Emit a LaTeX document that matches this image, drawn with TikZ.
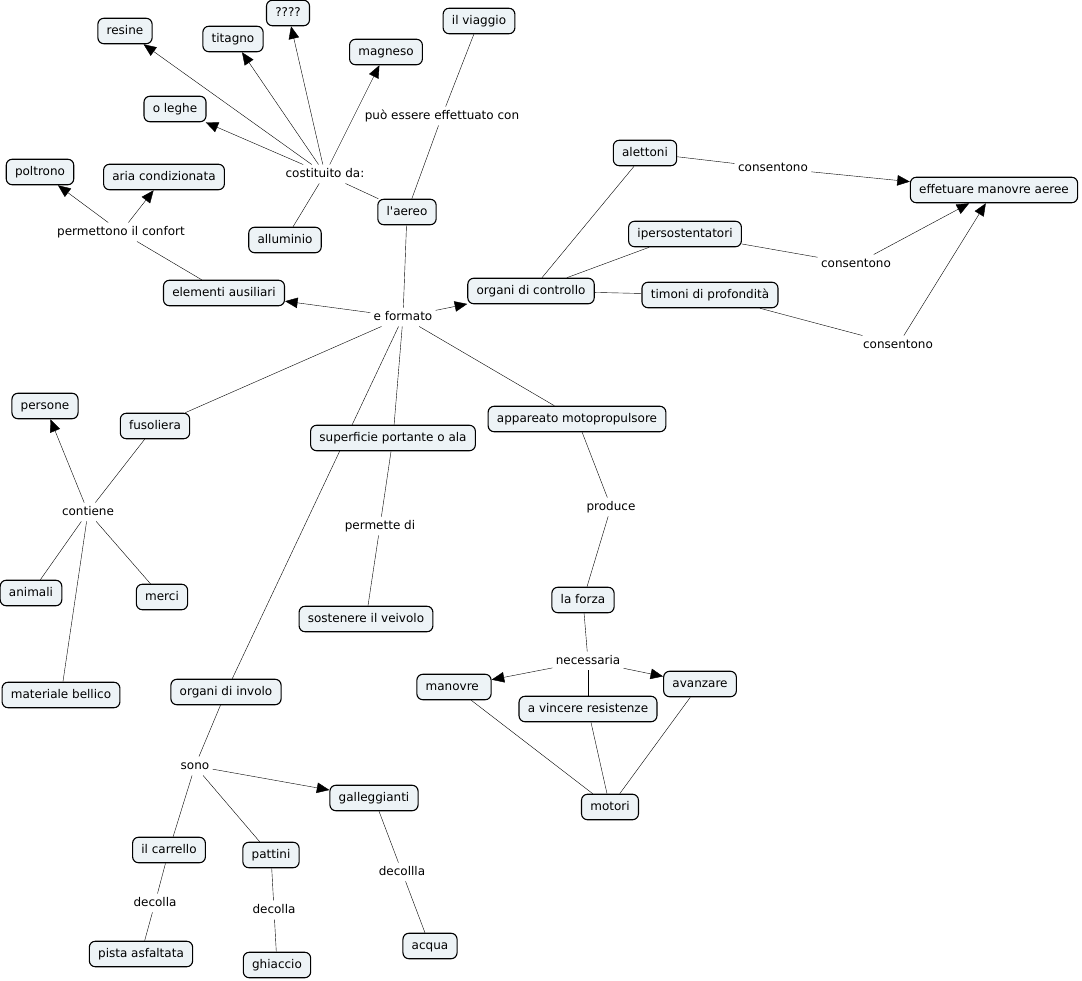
\documentclass[tikz,border=0pt]{standalone}
\usepackage{fontspec}
\setmainfont{DejaVu Sans}
\usetikzlibrary{arrows.meta,backgrounds}
\definecolor{conceptfill}{RGB}{237,243,246}

\tikzset{
  concept/.style={draw, line width=1.1pt, rounded corners=6pt, fill=conceptfill,
    inner xsep=8.8pt, minimum height=25.5pt, text height=9.2pt, text depth=2.8pt,
    font=\fontsize{12}{14}\selectfont},
  linkphrase/.style={inner sep=3pt, text height=9.2pt, text depth=2.8pt,
    font=\fontsize{12}{14}\selectfont},
  arr/.style={-{Triangle[length=12.5pt,width=10.5pt]}}
}

\begin{document}
\begin{tikzpicture}[x=1pt, y=-1pt, line width=0.9pt]
    \useasboundingbox (0,0) rectangle (1082,981);

    \node [concept] (resine) at (125,31) {resine};
    \node [concept] (titagno) at (233,39) {titagno};
    \node [concept] (q) at (288,13) {????};
    \node [concept] (magneso) at (386,52) {magneso};
    \node [concept] (viaggio) at (479,21) {il viaggio};
    \node [concept] (leghe) at (175,109) {o leghe};
    \node [concept] (poltrono) at (40,172) {poltrono};
    \node [concept] (aria) at (164,177) {aria condizionata};
    \node [linkphrase] (costituito) at (325,174) {costituito da:};
    \node [linkphrase] (effettuato) at (442,116) {può essere effettuato con};
    \node [concept] (aereo) at (407,212) {l\textquotesingle aereo};
    \node [concept] (alluminio) at (285,240) {alluminio};
    \node [linkphrase] (confort) at (121,232) {permettono il confort};
    \node [concept] (ausiliari) at (224,293) {elementi ausiliari};
    \node [linkphrase] (formato) at (403,317) {e formato};
    \node [concept] (controllo) at (531,291) {organi di controllo};

    \node [concept] (alettoni) at (645,153) {alettoni};
    \node [linkphrase] (cons1) at (773,168) {consentono};
    \node [concept] (manovreaeree) at (994,190) {effetuare manovre aeree};
    \node [concept] (iperso) at (685,234) {ipersostentatori};
    \node [linkphrase] (cons2) at (856,264) {consentono};
    \node [concept] (timoni) at (710,295) {timoni di profondità};
    \node [linkphrase] (cons3) at (898,345) {consentono};

    \node [concept] (persone) at (45,406) {persone};
    \node [concept] (fusoliera) at (155,426) {fusoliera};
    \node [concept] (superficie) at (393,438) {superficie portante o ala};
    \node [concept] (motoprop) at (577,419) {appareato motopropulsore};
    \node [linkphrase] (contiene) at (88,512) {contiene};
    \node [linkphrase] (permette) at (380,526) {permette di};
    \node [linkphrase] (produce) at (611,507) {produce};
    \node [concept] (animali) at (31,593) {animali};
    \node [concept] (merci) at (162,597) {merci};
    \node [concept] (veivolo) at (366,619) {sostenere il veivolo};
    \node [concept] (forza) at (583,600) {la forza};
    \node [linkphrase] (necessaria) at (588,661) {necessaria};
    \node [concept] (manovre) at (454,687) {manovre\hspace*{3.5pt}};
    \node [concept] (avanzare) at (700,684) {avanzare};
    \node [concept] (vincere) at (588,709) {a vincere resistenze};
    \node [concept] (bellico) at (61,695) {materiale bellico};
    \node [concept] (involo) at (226,692) {organi di involo};
    \node [linkphrase] (sono) at (195,766) {sono};
    \node [concept] (galleggianti) at (374,798) {galleggianti};
    \node [concept] (motori) at (610,807) {motori};
    \node [concept] (carrello) at (169,850) {il carrello};
    \node [concept] (pattini) at (271,855) {pattini};
    \node [linkphrase] (decolla1) at (155,903) {decolla};
    \node [linkphrase] (decolla2) at (274,910) {decolla};
    \node [linkphrase] (decollla) at (402,872) {decollla};
    \node [concept] (pista) at (141,954) {pista asfaltata};
    \node [concept] (ghiaccio) at (277,965) {ghiaccio};
    \node [concept] (acqua) at (430,946) {acqua};

    \begin{scope}[on background layer]
    \draw [arr] (costituito) -- (resine);
    \draw [arr] (costituito) -- (titagno);
    \draw [arr] (costituito) -- (q);
    \draw [arr] (costituito) -- (magneso);
    \draw [arr] (costituito) -- (leghe);
    \draw (costituito) -- (alluminio);
    \draw (aereo) -- (costituito);
    \draw (viaggio) -- (effettuato) -- (aereo);
    \draw (aereo) -- (formato);

    \draw [arr] (formato) -- (ausiliari);
    \draw [arr] (formato) -- (controllo);
    \draw (formato) -- (fusoliera);
    \draw (formato) -- (superficie);
    \draw (formato) -- (involo);
    \draw (formato) -- (motoprop);

    \draw (ausiliari) -- (confort);
    \draw [arr] (confort) -- (poltrono);
    \draw [arr] (confort) -- (aria);

    \draw (controllo) -- (alettoni);
    \draw (controllo) -- (iperso);
    \draw (controllo) -- (timoni);
    \draw (alettoni) -- (cons1);
    \draw [arr] (cons1) -- (manovreaeree);
    \draw (iperso) -- (cons2);
    \draw [arr] (cons2) -- (manovreaeree);
    \draw (timoni) -- (cons3);
    \draw [arr] (cons3) -- (manovreaeree);

    \draw (fusoliera) -- (contiene);
    \draw [arr] (contiene) -- (persone);
    \draw (contiene) -- (animali);
    \draw (contiene) -- (merci);
    \draw (contiene) -- (bellico);

    \draw (superficie) -- (permette) -- (veivolo);
    \draw (motoprop) -- (produce) -- (forza);

    \draw (forza) -- (necessaria);
    \draw [arr] (necessaria) -- (manovre);
    \draw [arr] (necessaria) -- (avanzare);
    \draw (necessaria) -- (vincere);
    \draw (manovre) -- (motori);
    \draw (vincere) -- (motori);
    \draw (avanzare) -- (motori);

    \draw (involo) -- (sono);
    \draw [arr] (sono) -- (galleggianti);
    \draw (sono) -- (carrello);
    \draw (sono) -- (pattini);
    \draw (carrello) -- (decolla1) -- (pista);
    \draw (pattini) -- (decolla2) -- (ghiaccio);
    \draw (galleggianti) -- (decollla) -- (acqua);
    \end{scope}
\end{tikzpicture}
\end{document}
